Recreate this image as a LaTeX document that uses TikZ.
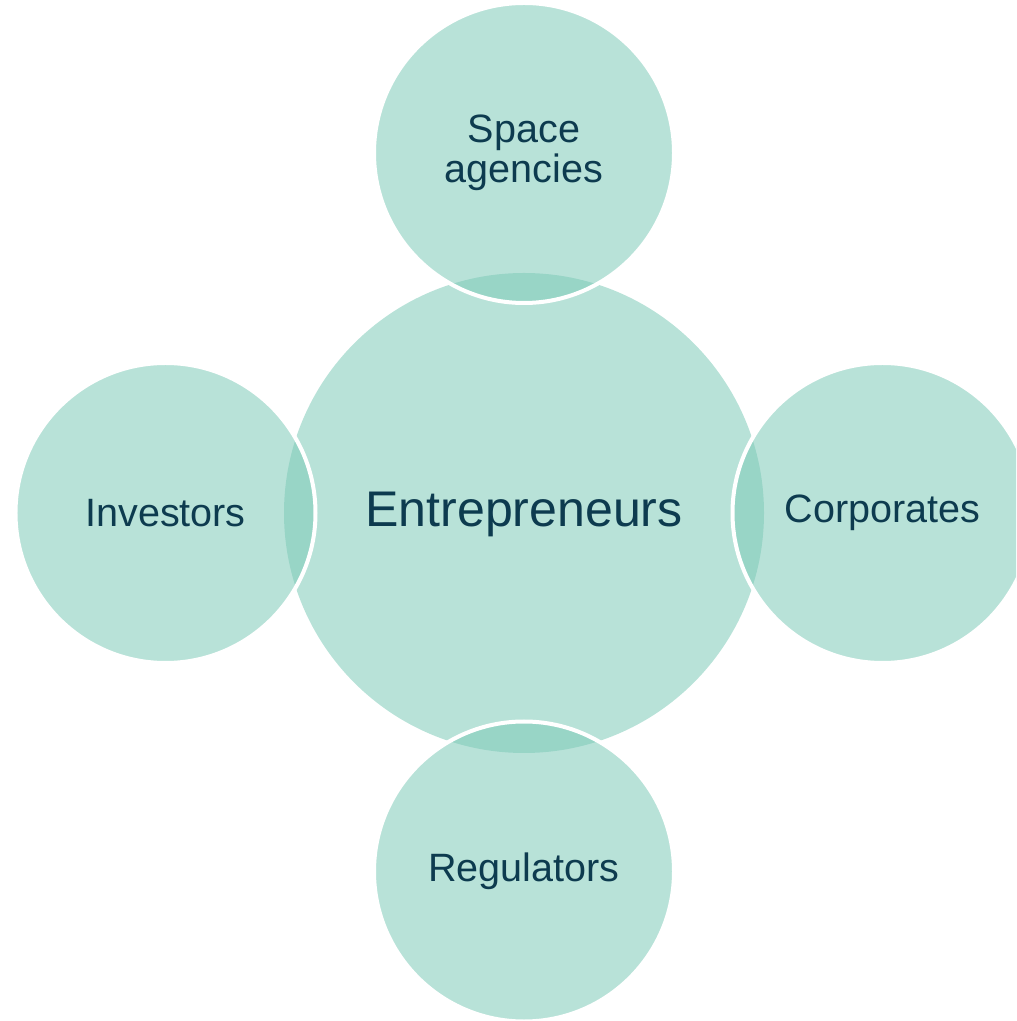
\documentclass[tikz,border=0pt]{standalone}
\usepackage{fontspec}
\setmainfont{Liberation Sans}
\usepackage{tikz}
\usetikzlibrary{positioning}
\definecolor{petal}{RGB}{126,202,184}
\definecolor{ink}{RGB}{13,59,79}
\tikzset{
    hub/.style = {circle, fill = petal, fill opacity = 0.55, text opacity = 1, text = ink,
                  inner sep = 0pt, minimum size = 9.6cm, align = center,
                  font = \fontsize{28.5}{30}\selectfont},
    party/.style = {circle, fill = petal, fill opacity = 0.55, text opacity = 1, text = ink,
                    draw = white, draw opacity = 1, line width = 0.08cm,
                    inner sep = 0pt, minimum size = 6.0cm, align = center,
                    font = \fontsize{22.5}{23}\selectfont},
    node distance = 7.17cm,
    on grid
}

\begin{document}
\begin{tikzpicture}
        \clip (-10.48,10.26) rectangle (9.84,-10.16);
        \node [hub, text depth = 0.15cm] (entre) at (0,0) {Entrepreneurs};
        \node [party, above = 7.2cm of entre] (space) {Space\\agencies};
        \node [party, left = of entre] (invest) {Investors};
        \node [party, right = of entre] (corp) {Corporates};
        \node [party, below = of entre] (regul) {Regulators};
    \end{tikzpicture}
\end{document}
